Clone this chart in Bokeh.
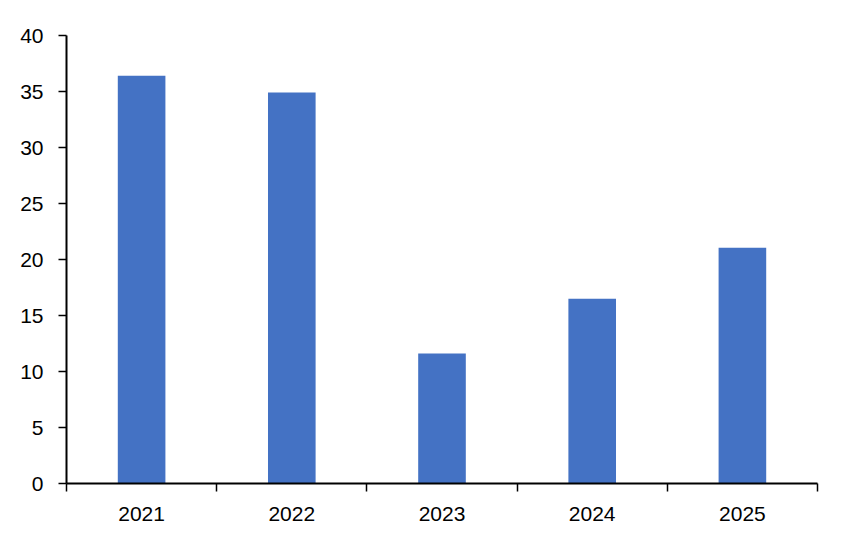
from bokeh.plotting import figure
from bokeh.models import Range1d, FixedTicker, ColumnDataSource
from bokeh.embed import file_html
from bokeh.resources import INLINE

years = ["2021", "2022", "2023", "2024", "2025"]
values = [36.4, 34.9, 11.6, 16.5, 21.05]
y_ticks = [0, 5, 10, 15, 20, 25, 30, 35, 40]

xpos = [i + 0.5 for i in range(len(years))]
src = ColumnDataSource(dict(x=xpos, top=values, year=years))

p = figure(width=836, height=533, output_backend="svg", toolbar_location=None,
           x_range=Range1d(0, len(years)), y_range=Range1d(0, 40),
           min_border_left=66, min_border_right=19, min_border_top=35, min_border_bottom=50)
p.vbar(x="x", top="top", bottom=0, width=0.317, source=src,
       fill_color="#4472C4", line_color=None)

p.xgrid.visible = False
p.ygrid.visible = False
p.outline_line_color = None
p.background_fill_color = "white"
p.border_fill_color = "white"

font = "Liberation Sans"
fs = "21px"

xa = p.xaxis[0]
xa.ticker = FixedTicker(ticks=xpos, minor_ticks=list(range(len(years) + 1)))
xa.major_label_overrides = {x: y for x, y in zip(xpos, years)}
xa.major_tick_line_color = None
xa.minor_tick_line_color = "black"
xa.minor_tick_line_width = 1.5
xa.minor_tick_out = 8
xa.minor_tick_in = 0
xa.axis_line_width = 2
xa.axis_line_color = "black"
xa.major_label_text_font = font
xa.major_label_text_font_size = fs
xa.major_label_text_color = "black"
xa.major_label_standoff = 15

ya = p.yaxis[0]
ya.ticker = FixedTicker(ticks=y_ticks, minor_ticks=[])
ya.major_tick_line_color = "black"
ya.major_tick_line_width = 1.5
ya.major_tick_out = 8
ya.major_tick_in = 0
ya.minor_tick_line_color = None
ya.axis_line_width = 2
ya.axis_line_color = "black"
ya.major_label_text_font = font
ya.major_label_text_font_size = fs
ya.major_label_text_color = "black"
ya.major_label_standoff = 15

open("out.html", "w").write(file_html(p, INLINE))
